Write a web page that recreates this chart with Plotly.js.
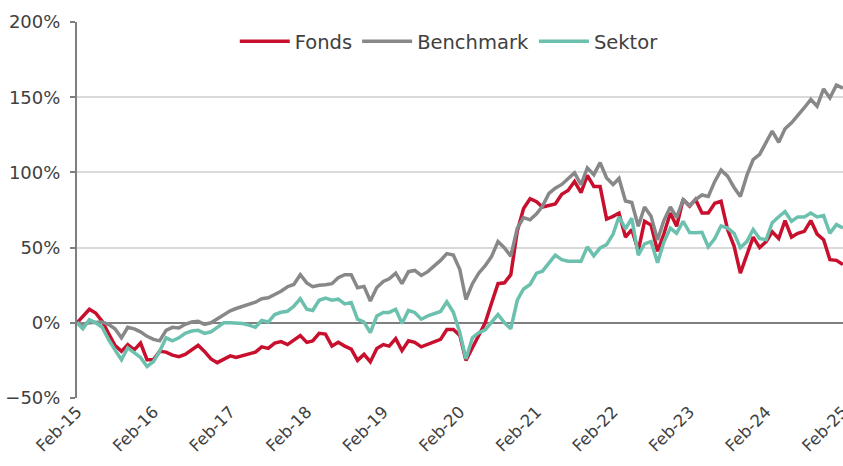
<!DOCTYPE html>
<html>
<head>
<meta charset="utf-8">
<script src="https://cdn.plot.ly/plotly-3.0.1.min.js"></script>
<style>html,body{margin:0;padding:0;background:#fff;}#chart{width:843px;height:466px;}</style>
</head>
<body>
<div id="chart"></div>
<script>
// Monthly cumulative performance (%), Feb-2015 .. Feb-2025
var startYear = 2015, startMonth = 2, nMonths = 121;

var fonds = [
  0, 4, 9, 6.5, 1, -7, -15, -19, -14.5, -18, -13.5, -24.5,
  -24.5, -19, -19.5, -21.5, -22.5, -21, -18, -15, -19, -24, -26.5, -24,
  -22, -23, -22, -21, -19.5, -16, -17, -13.5, -12.5, -14.5, -11.5, -8.5,
  -13, -12, -7, -7.5, -15.5, -13, -15.5, -17.5, -25, -21, -26, -17,
  -14.5, -15.5, -10.5, -18.5, -12, -13, -16, -14.5, -13, -11, -4.5, -4.5,
  -8.4, -25, -16.6, -9, 0, 13, 26, 26.6, 32, 61, 76, 82.5,
  80.5, 77, 78, 79, 85.5, 88, 94, 86.5, 98, 90.7, 90.7, 69,
  70.8, 73, 57, 62, 48, 67.5, 65, 47.6, 59, 73, 64.2, 82,
  77.5, 82, 73, 73, 79.5, 80.8, 62, 51, 33, 45, 57, 50,
  54, 60.5, 56, 68, 57, 59.5, 60.8, 68, 59, 55.3, 42, 41.5,
  38.7
];

var benchmark = [
  0, -1, 0, 0, 0.5, -1, -4, -10, -3, -4, -6, -9,
  -11, -12, -5, -3, -3.5, -1, 0.5, 1, -1, 0, 2.5, 5,
  8, 9.5, 11, 12.5, 13.7, 16, 16.6, 18.8, 21, 24, 25.5, 32,
  26.5, 24, 25, 25.3, 26, 30, 32, 32, 23.3, 24.2, 14.5, 23.5,
  27.5, 29.3, 33, 26, 34, 34.8, 31.5, 34, 37.4, 41.5, 46, 45,
  35.4, 15.5, 26, 33, 38, 44, 54, 49.8, 44.3, 63, 70, 68.5,
  72.5, 77.5, 86, 89.5, 92, 96, 99.7, 91.9, 103, 98.5, 106.5, 96.3,
  92, 96, 81, 80, 64.2, 77, 70.8, 55, 68, 77, 70, 82,
  78, 82, 85, 84, 94, 101.5, 97.5, 90, 84, 98, 108.5, 112,
  119.5, 127.5, 120, 129, 133, 137.5, 143, 148.5, 144, 155.5, 149.5, 158,
  156
];

var sektor = [
  0, -4, 2, 0, -3, -11, -18, -24.6, -16.6, -20, -23, -29,
  -25.7, -19, -10, -12, -10, -7, -5.5, -5, -7, -6, -3, 0,
  0, 0, -0.5, -1.5, -3, 1.5, 0.5, 5.5, 7, 7.7, 11, 16,
  9, 8.2, 15, 16.4, 15, 15.7, 12.6, 13.5, 2.4, 0.5, -6.5, 4.5,
  6.9, 6.9, 9, -0.4, 8.2, 6.9, 2.4, 4.6, 6, 7.5, 14, 7,
  -6.6, -24, -10, -6.6, -4.6, 0, 5.5, 0, -4, 15, 22.5, 25.5,
  33, 34.3, 40, 45, 42, 41, 41, 41, 50.5, 44.5, 49.8, 52,
  59, 70.5, 62.5, 69.5, 45, 52.5, 54, 40, 53.5, 63, 59.5, 67.5,
  60, 59.8, 60.2, 50.5, 56, 64.5, 63, 59.5, 50, 54, 62, 56,
  55.3, 66.5, 70.5, 74, 67.5, 70.4, 70.4, 73, 70.4, 71.3, 59.5, 65.3,
  63
];

var seriesNames = ["Fonds", "Benchmark", "Sektor"];
var seriesColors = ["#c8102e", "#87888a", "#6cc0ae"];

var tickVals = ["2015-02-01","2016-02-01","2017-02-01","2018-02-01","2019-02-01","2020-02-01",
                "2021-02-01","2022-02-01","2023-02-01","2024-02-01","2025-02-01"];
var tickText = ["Feb-15","Feb-16","Feb-17","Feb-18","Feb-19","Feb-20",
                "Feb-21","Feb-22","Feb-23","Feb-24","Feb-25"];

var dates = [];
for (var i = 0; i < nMonths; i++) {
  var m = startMonth - 1 + i;
  var y = startYear + Math.floor(m / 12);
  var mm = (m % 12) + 1;
  dates.push(y + "-" + (mm < 10 ? "0" + mm : mm) + "-01");
}

var allSeries = [fonds, benchmark, sektor];
var traces = allSeries.map(function (vals, k) {
  return {
    x: dates, y: vals, type: "scatter", mode: "lines", name: seriesNames[k],
    line: {color: seriesColors[k], width: 3.5}
  };
});

var font = "DejaVu Sans, Verdana, sans-serif";
var layout = {
  width: 843, height: 466,
  margin: {l: 77, r: 0, t: 22, b: 68, pad: 0},
  paper_bgcolor: "#fff", plot_bgcolor: "#fff",
  font: {family: font, size: 16, color: "#404040"},
  showlegend: true,
  legend: {orientation: "h", x: 0.486, xanchor: "center", y: 1.0, yanchor: "top",
           font: {family: font, size: 19.5, color: "#404040"}, bgcolor: "rgba(0,0,0,0)",
           itemwidth: 50, tracegroupgap: 0},
  xaxis: {type: "date", range: ["2015-02-01", "2025-02-01 12:00"],
          tickmode: "array", tickvals: tickVals, ticktext: tickText, tickangle: -45,
          ticklabeloverflow: "allow",
          showgrid: false, zeroline: false, showline: false, ticks: "",
          tickfont: {family: font, size: 16.5, color: "#404040"}},
  yaxis: {range: [-50, 200], dtick: 50, tick0: 0, ticksuffix: "%",
          showgrid: true, gridcolor: "#d9d9d9", gridwidth: 2,
          zeroline: true, zerolinecolor: "#7f7f7f", zerolinewidth: 2,
          showline: true, linecolor: "#7f7f7f", linewidth: 2,
          ticks: "outside", ticklen: 5, tickcolor: "#7f7f7f", tickwidth: 2,
          ticklabelstandoff: 6,
          tickfont: {family: font, size: 18, color: "#404040"}}
};

Plotly.newPlot("chart", traces, layout, {staticPlot: true, displayModeBar: false});
</script>
</body>
</html>
